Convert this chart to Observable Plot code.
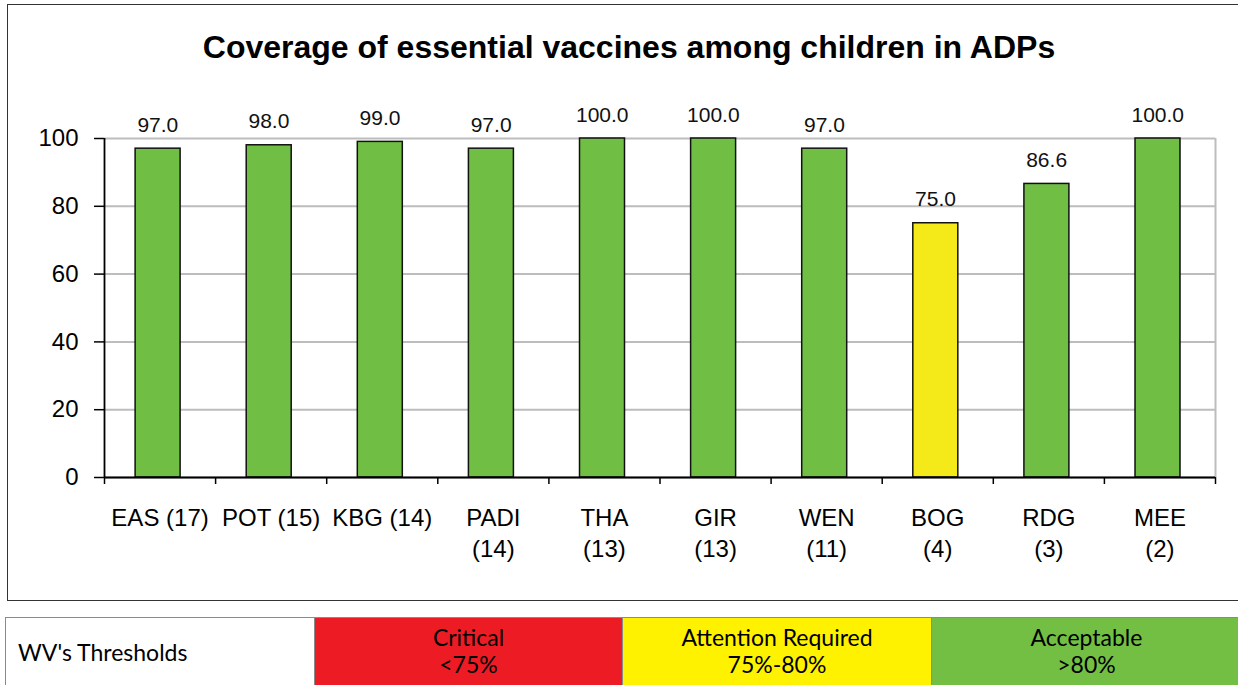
<!DOCTYPE html>
<html>
<head>
<meta charset="utf-8">
<script src="https://cdn.jsdelivr.net/npm/d3@7"></script>
<script src="https://cdn.jsdelivr.net/npm/@observablehq/plot@0.6"></script>
<style>
  html, body { margin: 0; padding: 0; background: #fff; }
  #page { position: relative; width: 1238px; height: 685px; overflow: hidden; }
  #frame { position: absolute; left: 7px; top: 4px; width: 1240px; height: 597px; border: 1.5px solid #333; box-sizing: border-box; }
  #title { position: absolute; left: 0; width: 1258px; top: 29px; text-align: center; font: bold 32px "Liberation Sans", Arial, sans-serif; color: #000; }
  #chart { position: absolute; left: 0; top: 0; }
  #thresholds { position: absolute; left: 5px; top: 617px; display: flex; height: 80px; font-family: Lato, "Noto Sans", sans-serif; font-size: 23px; color: #000; }
  #thresholds div { box-sizing: border-box; border: 1px solid #8a8a8a; border-left: none; display: flex; flex-direction: column; justify-content: flex-start; padding-top: 6px; text-align: center; line-height: 27px; }
  #thresholds div:first-child { border-left: 1px solid #8a8a8a; text-align: left; padding-left: 12px; padding-top: 21px; }
</style>
</head>
<body>
<div id="page">
  <div id="frame"></div>
  <div id="title">Coverage of essential vaccines among children in ADPs</div>
  <div id="chart"></div>
  <div id="thresholds"></div>
</div>
<script>
const categories = ["EAS (17)", "POT (15)", "KBG (14)", "PADI\n(14)", "THA\n(13)", "GIR\n(13)", "WEN\n(11)", "BOG\n(4)", "RDG\n(3)", "MEE\n(2)"];
const coverage = [97.0, 98.0, 99.0, 97.0, 100.0, 100.0, 97.0, 75.0, 86.6, 100.0];
const yTicks = [0, 20, 40, 60, 80, 100];
const thresholdLabels = ["WV's Thresholds", "Critical\n<75%", "Attention Required\n75%-80%", "Acceptable\n>80%"];

const GREEN = "#71BE45", YELLOW = "#F5EA19", RED = "#ED1C24";
const fillFor = v => v < 75 ? RED : v <= 80 ? YELLOW : GREEN;

const data = categories.map((c, i) => ({i, label: c, value: coverage[i]}));
const n = categories.length;

const plot = Plot.plot({
  width: 1238,
  height: 600,
  marginLeft: 104,
  marginRight: 23,
  marginTop: 138,
  marginBottom: 123,
  style: {fontFamily: "'Liberation Sans', Arial, sans-serif", background: "transparent", overflow: "visible"},
  x: {domain: [0, n], axis: null},
  y: {domain: [0, 100], axis: null},
  marks: [
    Plot.ruleY(yTicks, {stroke: "#bdbdbd", strokeWidth: 2}),
    Plot.ruleX([n], {stroke: "#bdbdbd", strokeWidth: 2}),
    Plot.rectY(data, {
      x1: d => d.i + 0.28, x2: d => d.i + 0.685,
      y1: 0, y2: "value",
      fill: d => fillFor(d.value), stroke: "#111", strokeWidth: 1.5
    }),
    Plot.text(data, {
      x: d => d.i + 0.48, y: "value", text: d => d.value.toFixed(1),
      lineAnchor: "bottom", dy: -17, fontSize: 21, fill: "#111"
    }),
    Plot.axisY({ticks: yTicks, tickSize: 10, tickPadding: 16, fontSize: 24, stroke: "#000", strokeWidth: 1.5, label: null, color: "#000"}),
    Plot.ruleX([0], {stroke: "#000", strokeWidth: 1.8}),
    Plot.ruleY([0], {stroke: "#000", strokeWidth: 1.8}),
    Plot.axisX({ticks: d3.range(0, n + 1), tickSize: 7, tickFormat: () => "", stroke: "#000", strokeWidth: 1.5, label: null}),
    Plot.text(data, {
      x: d => d.i + 0.5, y: 0, text: "label",
      lineAnchor: "top", dy: 26, fontSize: 24, lineHeight: 1.3, fill: "#000"
    })
  ]
});
document.getElementById("chart").appendChild(plot);

const cellColors = ["#ffffff", "#ED1C24", "#FFF200", "#72BF44"];
const cellWidths = [310, 308, 309, 310];
const t = document.getElementById("thresholds");
thresholdLabels.forEach((lab, k) => {
  const d = document.createElement("div");
  d.style.background = cellColors[k];
  d.style.width = cellWidths[k] + "px";
  d.innerHTML = lab.split("\n").map(s => "<span>" + s.replace(/</g, "&lt;").replace(/>/g, "&gt;") + "</span>").join("");
  t.appendChild(d);
});
</script>
</body>
</html>
